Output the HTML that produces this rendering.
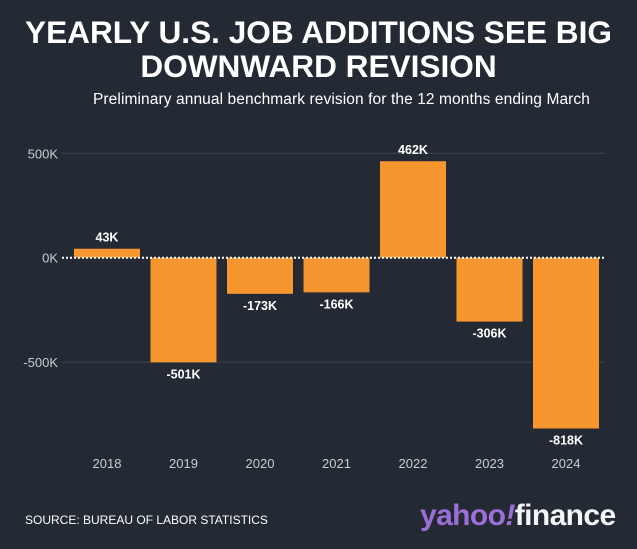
<!DOCTYPE html>
<html><head><meta charset="utf-8"><style>
body{margin:0;background:#232a33;width:637px;height:549px;overflow:hidden;font-family:"Liberation Sans",sans-serif;position:relative}
.t{position:absolute;left:0;width:637px;text-align:center;color:#fff;font-weight:bold}
</style></head><body>
<div class="t" style="top:15px;font-size:31.6px;line-height:34px;letter-spacing:0px">YEARLY U.S. JOB ADDITIONS SEE BIG<br>DOWNWARD REVISION</div>
<div class="t" style="top:91px;left:23px;font-size:15.5px;font-weight:normal;letter-spacing:0.1px">Preliminary annual benchmark revision for the 12 months ending March</div>
<svg id="c" width="637" height="549" style="position:absolute;left:0;top:0"></svg>
<div style="position:absolute;left:25px;top:513px;color:#fff;font-size:12px">SOURCE: BUREAU OF LABOR STATISTICS</div>
<div style="position:absolute;left:420px;top:499px;font-size:30px;font-weight:bold;letter-spacing:-0.6px"><span style="color:#9b6fd6">yahoo<i>!</i></span><span style="color:#f2f4f6">finance</span></div>
<script>
const categories=["2018","2019","2020","2021","2022","2023","2024"];
const values=[43,-501,-173,-166,462,-306,-818];
const labels=["43K","-501K","-173K","-166K","462K","-306K","-818K"];
const ticks=[500,0,-500];
const tickLabels=["500K","0K","-500K"];
const svg=document.getElementById('c');const NS='http://www.w3.org/2000/svg';
const y0=257.7,k=104.4/500,x0=69,step=76.5,bw=66;
const y=v=>y0-v*k;const x=i=>x0+i*step;
function mk(t,a){const e=document.createElementNS(NS,t);for(const n in a)e.setAttribute(n,a[n]);svg.appendChild(e);return e;}
ticks.forEach((t,i)=>{
 if(t!==0){const g=mk('line',{x1:62,x2:605,y1:y(t),y2:y(t),stroke:'#3f454d','stroke-width':1});
 
 }
 const l=mk('text',{x:58,y:y(t)+5,'text-anchor':'end',fill:'#c9ccd0','font-size':13});l.textContent=tickLabels[i];
 
 
});
values.forEach((v,i)=>{
 const top=Math.min(y(v),y0),h=Math.abs(y(v)-y0);
 const r=mk('rect',{x:x(i)+5,y:top,width:bw,height:h,fill:'#f7962f'});
 
 
 const ly=v>=0?y(v)-7:y(v)+16;
 const t=mk('text',{x:x(i)+5+bw/2,y:ly,'text-anchor':'middle',fill:'#fff','font-size':12.5,'font-weight':'bold'});t.textContent=labels[i];
 
 
 const c=mk('text',{x:x(i)+5+bw/2,y:468,'text-anchor':'middle',fill:'#c9ccd0','font-size':13});c.textContent=categories[i];
 
 
});
const z=mk('line',{x1:62,x2:605,y1:y0,y2:y0,stroke:'#fff','stroke-width':2,'stroke-dasharray':'2 2'});


</script>
</body></html>
